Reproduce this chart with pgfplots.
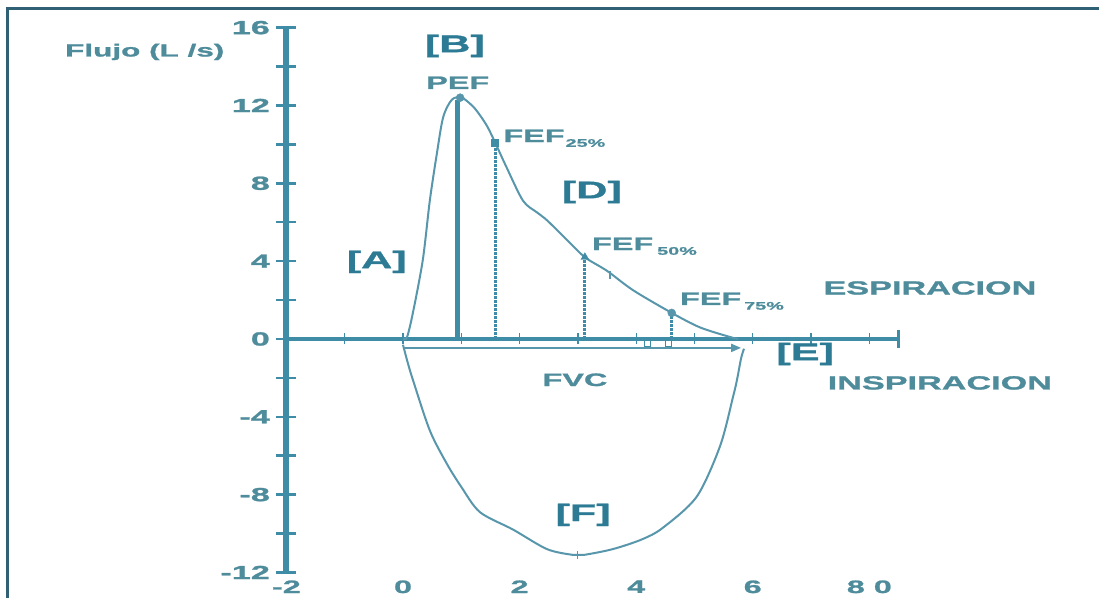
\documentclass[border=0pt]{standalone}
\usepackage{fontspec}
\setmainfont{Liberation Sans}[FakeStretch=1.8, BoldFeatures={FakeBold=1.3}]
\usepackage{pgfplots}
\pgfplotsset{compat=1.18}
\usetikzlibrary{arrows.meta}
\definecolor{axc}{RGB}{62,140,165}
\definecolor{txc}{RGB}{78,140,155}
\definecolor{brc}{RGB}{44,122,147}
\definecolor{cvc}{RGB}{88,150,172}
\definecolor{frc}{RGB}{48,96,115}
\newcommand{\fs}[1]{\fontsize{#1}{#1}\selectfont}
\newcommand{\fef}[2]{FEF\hspace{#2}\raisebox{-0.5ex}{\fs{11}#1\%}}
\begin{document}
\begin{tikzpicture}
\begin{axis}[
  x=58.3pt, y=19.46pt,
  xmin=-2, xmax=8.5, ymin=-12, ymax=16,
  axis x line=middle, axis y line=left,
  hide obscured x ticks=false, hide obscured y ticks=false,
  x axis line style={-, line width=3.5pt, color=axc},
  y axis line style={-, line width=6pt, color=axc},
  xtick={-2,-1,...,8},
  xticklabels={-2,,0,,2,,4,,6,,8 0},
  ytick={-12,-10,...,16},
  yticklabels={-12,,-8,,-4,,0,,4,,8,,12,,16},
  tick align=center,
  major tick length=20pt,
  xtick style={/pgfplots/major tick length=11pt, line width=1.3pt, color=axc},
  ytick style={line width=2.5pt, color=axc},
  xticklabel style={font=\bfseries\fs{18}, text=txc, yshift=-228pt},
  yticklabel style={font=\bfseries\fs{19}, text=txc, xshift=-3pt},
  clip=false,
]
% expiration curve
\addplot[color=cvc, line width=2pt, smooth, tension=0.5] coordinates {
 (0.0,0.0) (0.07,0.1) (0.17,1.34) (0.34,4.06) (0.46,7.1) (0.58,9.5) (0.69,11.4)
 (0.84,12.3) (1.01,12.4) (1.2,11.95) (1.32,11.5) (1.45,10.9) (1.58,10.1) (1.78,8.8)
 (2.06,7.1) (2.3,6.5) (2.47,6.1) (2.81,5.1) (3.12,4.2) (3.5,3.5) (3.95,2.5)
 (4.61,1.34) (5.09,0.6) (5.61,0.1) (5.75,0.0)};
% inspiration curve
\addplot[color=cvc, line width=2pt, smooth, tension=0.5] coordinates {
 (0.0,-0.3) (0.08,-1.2) (0.17,-2.1) (0.46,-4.7) (0.75,-6.4) (1.0,-7.6) (1.32,-8.9)
 (1.89,-9.8) (2.47,-10.8) (2.92,-11.1) (3.1,-11.1) (3.6,-10.8) (4.1,-10.3)
 (4.46,-9.7) (5.04,-8.1) (5.44,-5.5) (5.66,-3.0) (5.73,-2.1) (5.8,-1.0) (5.85,-0.5)};
% PEF line
\addplot[color=axc, line width=5pt] coordinates {(0.93,0) (0.93,12.3)};
% FEF dotted lines
\addplot[color=axc, line width=3pt, dash pattern=on 2.5pt off 1.5pt] coordinates {(1.58,0) (1.58,10.1)};
\addplot[color=axc, line width=3pt, dash pattern=on 2.5pt off 1.5pt] coordinates {(3.12,0) (3.12,4.2)};
\addplot[color=axc, line width=3pt, dash pattern=on 2.5pt off 1.5pt] coordinates {(4.61,0) (4.61,1.34)};
% markers
\addplot[only marks, mark=*, mark size=4pt, color=cvc] coordinates {(0.98,12.4) (4.61,1.34)};
\addplot[only marks, mark=square*, mark size=3.5pt, color=axc] coordinates {(1.58,10.1)};
\addplot[only marks, mark=triangle*, mark size=4.5pt, color=axc] coordinates {(3.12,4.2)};
\addplot[only marks, mark=|, mark size=4pt, color=cvc, line width=1.2pt] coordinates {(3.0,-11.1) (3.55,3.3)};
% FVC arrow
\addplot[color=cvc, line width=2pt, -{Triangle[length=10pt,width=8pt]}] coordinates {(0,-0.46) (5.8,-0.46)};
\addplot[only marks, mark=square, mark size=3pt, color=axc, line width=1pt] coordinates {(4.2,-0.23) (4.55,-0.23)};
% end cap of x axis
\addplot[color=axc, line width=3pt] coordinates {(8.5,-0.45) (8.5,0.45)};
% labels
\node[font=\bfseries\fs{17.5}, text=txc, inner sep=0] at (axis cs:-4.43,14.75) {Flujo (L /s)};
\node[font=\bfseries\fs{24}, text=brc, inner sep=0] at (axis cs:0.89,15.06) {[B]};
\node[font=\bfseries\fs{18}, text=txc, inner sep=0, anchor=base] at (axis cs:0.94,12.85) {PEF};
\node[font=\bfseries\fs{18}, text=txc, inner sep=0, anchor=base west] at (axis cs:1.72,10.12) {\fef{25}{1pt}};
\node[font=\bfseries\fs{24}, text=brc, inner sep=0] at (axis cs:3.24,7.55) {[D]};
\node[font=\bfseries\fs{24}, text=brc, inner sep=0] at (axis cs:-0.45,3.96) {[A]};
\node[font=\bfseries\fs{18}, text=txc, inner sep=0, anchor=base west] at (axis cs:3.24,4.57) {\fef{50}{4pt}};
\node[font=\bfseries\fs{18}, text=txc, inner sep=0, anchor=base west] at (axis cs:4.75,1.75) {\fef{75}{3pt}};
\node[font=\bfseries\fs{19}, text=txc, inner sep=0] at (axis cs:9.04,2.62) {ESPIRACION};
\node[font=\bfseries\fs{24}, text=brc, inner sep=0] at (axis cs:6.9,-0.77) {[E]};
\node[font=\bfseries\fs{18}, text=txc, inner sep=0] at (axis cs:2.95,-2.1) {FVC};
\node[font=\bfseries\fs{19}, text=txc, inner sep=0] at (axis cs:9.21,-2.26) {INSPIRACION};
\node[font=\bfseries\fs{24}, text=brc, inner sep=0] at (axis cs:3.09,-9.04) {[F]};
% frame
\draw[color=frc, line width=3pt] (axis cs:-6.79,-13.4) -- (axis cs:-6.79,16.96) -- (axis cs:12.0,16.96);
\coordinate (tl) at (axis cs:-6.913,17.42);
\coordinate (br) at (axis cs:11.94,-13.31);
\end{axis}
\pgfresetboundingbox
\path[use as bounding box] (tl) rectangle (br);
\end{tikzpicture}
\end{document}
